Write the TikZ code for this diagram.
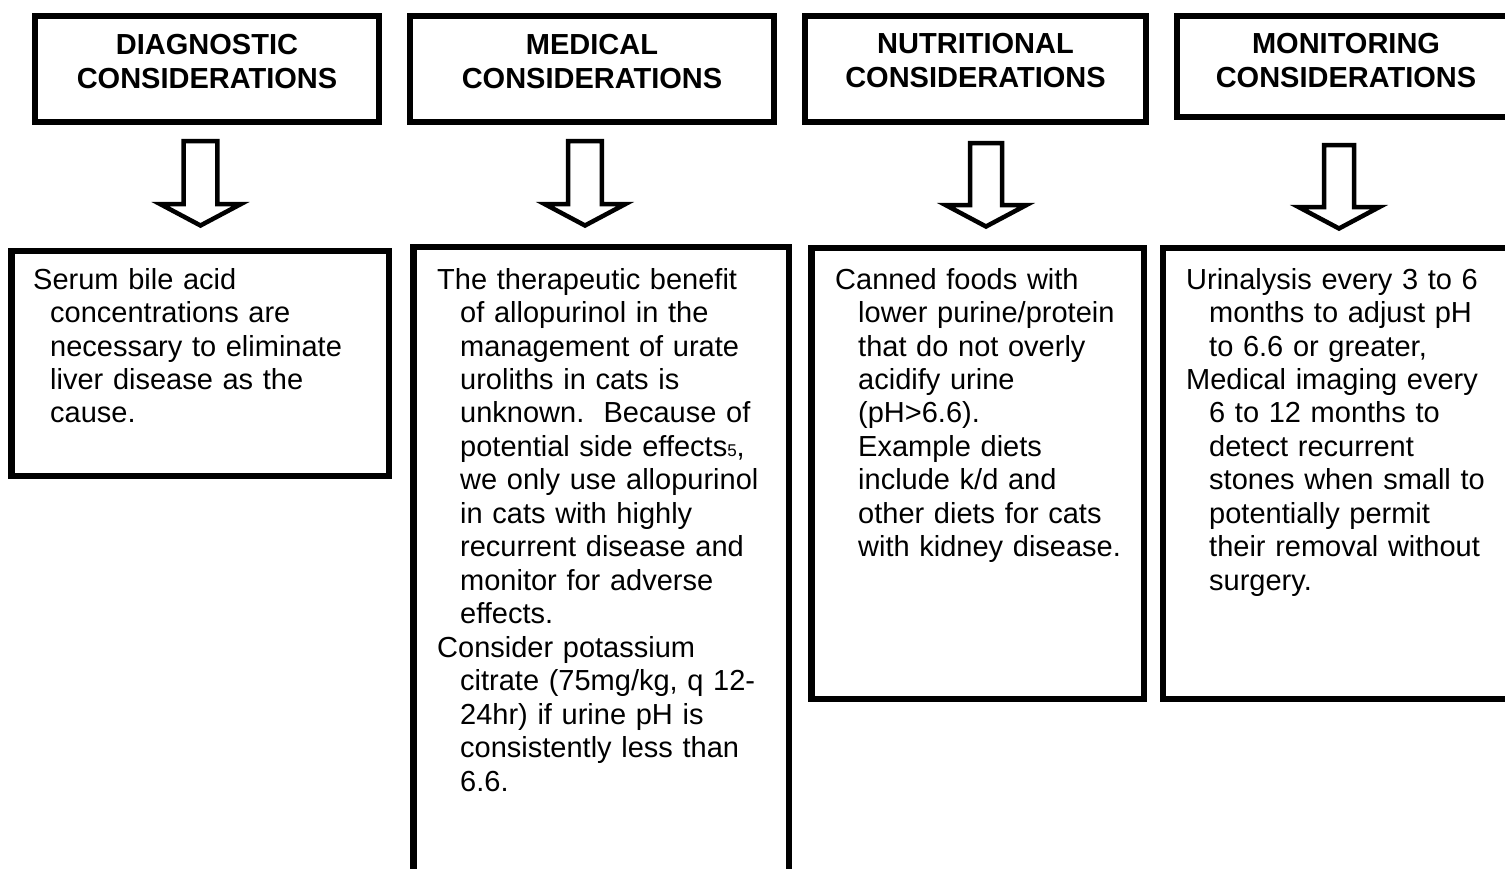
\documentclass[tikz,border=0pt]{standalone}
\usepackage{fontspec}
\setmainfont{Liberation Sans}
\newcommand\blockarr[6]{%
  \draw[barrow] ({#1-#3},#2) -- ({#1+#3},#2) -- ({#1+#3},#5) -- ({#1+#4},#5)
    -- (#1,#6) -- ({#1-#4},#5) -- ({#1-#3},#5) -- cycle;}
\begin{document}
\begin{tikzpicture}[x=1pt,y=-1pt,
  hbox/.style={draw=black, line width=5.7pt, fill=white, inner sep=0pt},
  tbox/.style={draw=black, line width=6.5pt, fill=white, inner sep=0pt},
  htext/.style={anchor=base, inner sep=0pt, text width=340pt, align=center,
    font=\fontsize{29}{34}\selectfont\bfseries},
  btext/.style={anchor=base west, inner sep=0pt, text width=380pt, align=left,
    font=\fontsize{29}{33.5}\selectfont},
  barrow/.style={draw=black, line width=4.5pt, fill=white, line join=miter}]
\clip (0,0) rectangle (1505,869);
\fill[white] (0,0) rectangle (1505,869);
% header boxes
\node[hbox, minimum width=344.3pt, minimum height=106.3pt] (h1) at (207,69) {};
\node[hbox, minimum width=364.3pt, minimum height=106.3pt] (h2) at (592,69) {};
\node[hbox, minimum width=341.3pt, minimum height=106.3pt] (h3) at (975.5,69) {};
\node[hbox, minimum width=370pt, minimum height=101.3pt] (h4) at (1362,66.5) {};
\node[htext] (h1t) at (207,55) {DIAGNOSTIC\\CONSIDERATIONS};
\node[htext] (h2t) at (592,55) {MEDICAL\\CONSIDERATIONS};
\node[htext] (h3t) at (975.5,54) {NUTRITIONAL\\CONSIDERATIONS};
\node[htext] (h4t) at (1346,54) {MONITORING\\CONSIDERATIONS};
% block arrows
\blockarr{200.5}{141.25}{16.8}{40}{204.25}{225.5}
\blockarr{585}{141.25}{16.8}{40}{204.25}{225.5}
\blockarr{986}{143.25}{16}{40}{205.25}{226.5}
\blockarr{1339}{145.25}{15}{40}{207.25}{228.5}
% text boxes
\node[tbox, minimum width=377.5pt, minimum height=224.5pt] (t1) at (200,363.5) {};
\node[tbox, minimum width=375.5pt, minimum height=652.75pt] (t2) at (601,573.6) {};
\node[tbox, minimum width=332.5pt, minimum height=450.5pt] (t3) at (977.5,473.5) {};
\node[tbox, minimum width=376.75pt, minimum height=450.5pt] (t4) at (1351.6,473.5) {};
% texts
\node[btext] (t1t) at (33,289) {Serum bile acid\\
\hspace*{17pt}concentrations are\\
\hspace*{17pt}necessary to eliminate\\
\hspace*{17pt}liver disease as the\\
\hspace*{17pt}cause.};
\node[btext] (t2t) at (437,289) {The therapeutic benefit\\
\hspace*{23pt}of allopurinol in the\\
\hspace*{23pt}management of urate\\
\hspace*{23pt}uroliths in cats is\\
\hspace*{23pt}unknown.\ \ Because of\\
\hspace*{23pt}potential side effects{\fontsize{17}{17}\selectfont 5},\\
\hspace*{23pt}we only use allopurinol\\
\hspace*{23pt}in cats with highly\\
\hspace*{23pt}recurrent disease and\\
\hspace*{23pt}monitor for adverse\\
\hspace*{23pt}effects.\\
Consider potassium\\
\hspace*{23pt}citrate (75mg/kg, q 12-\\
\hspace*{23pt}24hr) if urine pH is\\
\hspace*{23pt}consistently less than\\
\hspace*{23pt}6.6.};
\node[btext] (t3t) at (835,289) {Canned foods with\\
\hspace*{23pt}lower purine/protein\\
\hspace*{23pt}that do not overly\\
\hspace*{23pt}acidify urine\\
\hspace*{23pt}(pH>6.6).\\
\hspace*{23pt}Example diets\\
\hspace*{23pt}include k/d and\\
\hspace*{23pt}other diets for cats\\
\hspace*{23pt}with kidney disease.};
\node[btext] (t4t) at (1186,289) {Urinalysis every 3 to 6\\
\hspace*{23pt}months to adjust pH\\
\hspace*{23pt}to 6.6 or greater,\\
Medical imaging every\\
\hspace*{23pt}6 to 12 months to\\
\hspace*{23pt}detect recurrent\\
\hspace*{23pt}stones when small to\\
\hspace*{23pt}potentially permit\\
\hspace*{23pt}their removal without\\
\hspace*{23pt}surgery.};
\end{tikzpicture}
\end{document}
